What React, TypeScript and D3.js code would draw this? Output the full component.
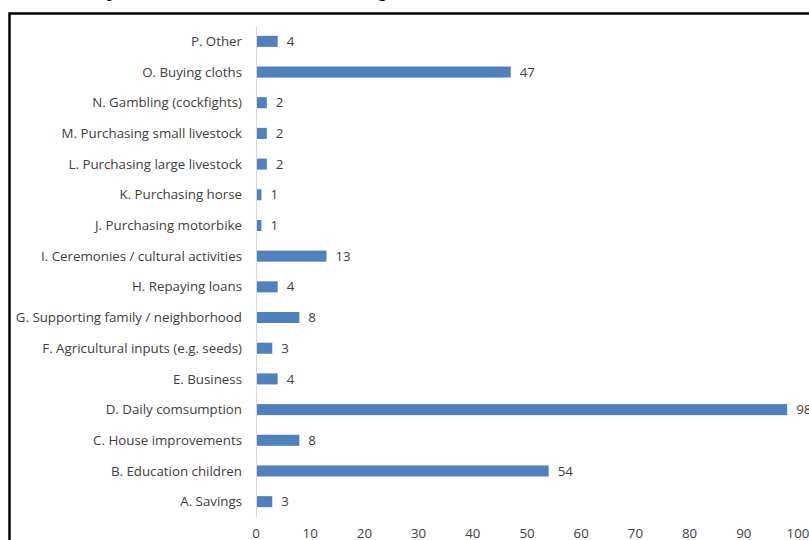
import React from "react";
import * as d3 from "d3";

const categories = [
  "P. Other",
  "O. Buying cloths",
  "N. Gambling (cockfights)",
  "M. Purchasing small livestock",
  "L. Purchasing large livestock",
  "K. Purchasing horse",
  "J. Purchasing motorbike",
  "I. Ceremonies / cultural activities",
  "H. Repaying loans",
  "G. Supporting family / neighborhood",
  "F. Agricultural inputs (e.g. seeds)",
  "E. Business",
  "D. Daily comsumption",
  "C. House improvements",
  "B. Education children",
  "A. Savings",
];
const values = [4, 47, 2, 2, 2, 1, 1, 13, 4, 8, 3, 4, 98, 8, 54, 3];
const xTicks = [0, 10, 20, 30, 40, 50, 60, 70, 80, 90, 100];
const titleText = "Chart 2: Expenditure of the income from the trading";

export default function App() {
  const W = 809;
  const H = 540;
  const x = d3.scaleLinear().domain([0, 100]).range([256, 798]);
  const y = d3.scaleBand().domain(categories).range([26, 517]).paddingInner(0.64).paddingOuter(0.32);
  const font = "'Open Sans', Lato, sans-serif";
  const fs = 13.3;
  return (
    <div style={{ position: "fixed", left: 0, top: 0, width: W, height: H, background: "#fff", overflow: "hidden" }}>
      <svg width={W} height={H} style={{ display: "block" }}>
        <rect x={0} y={0} width={W} height={H} fill="#fff" />
        <text x={26} y={-3.5} fontFamily="'Liberation Serif', 'Times New Roman', serif" fontWeight="bold" fontSize={16} fill="#000">
          {titleText}
        </text>
        <rect x={9.5} y={13.5} width={W + 20} height={H + 20} fill="none" stroke="#000" strokeWidth={2.5} />
        {categories.map((c, i) => (
          <g key={c}>
            <rect x={x(0)} y={y(c)!} width={x(values[i]) - x(0)} height={y.bandwidth()} fill="#4F81BD" />
            <text
              x={x(values[i]) + 9}
              y={y(c)! + y.bandwidth() / 2}
              dy="0.35em"
              fontFamily={font}
              fontSize={fs}
              fill="#404040"
            >
              {values[i]}
            </text>
            <text
              x={242}
              y={y(c)! + y.bandwidth() / 2}
              dy="0.35em"
              textAnchor="end"
              fontFamily={font}
              fontSize={fs}
              fill="#404040"
            >
              {c}
            </text>
          </g>
        ))}
        <line x1={256.5} x2={256.5} y1={26} y2={517} stroke="#d9d9d9" strokeWidth={1} />
        {xTicks.map((t) => (
          <text key={t} x={x(t)} y={533} dy="0.35em" textAnchor="middle" fontFamily={font} fontSize={fs} fill="#404040">
            {t}
          </text>
        ))}
      </svg>
    </div>
  );
}
